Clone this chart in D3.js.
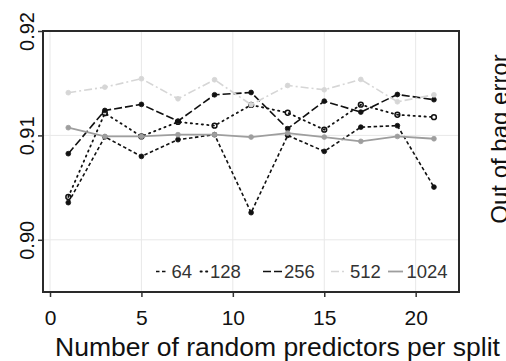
<!DOCTYPE html>
<html>
<head>
<meta charset="utf-8">
<script src="https://cdn.jsdelivr.net/npm/d3@7"></script>
<style>
  html, body { margin: 0; padding: 0; background: #fff; }
  svg { display: block; font-family: "Liberation Sans", Arial, Helvetica, sans-serif; }
</style>
</head>
<body>
<svg id="chart" width="506" height="361"></svg>
<script>
// Number of random predictors tried at each split
const predictors = [1, 3, 5, 7, 9, 11, 13, 15, 17, 19, 21];

// Out-of-bag error for each forest size (number of trees)
const err64   = [0.90356, 0.90986, 0.90799, 0.90959, 0.91007, 0.90260, 0.91000, 0.90847, 0.91079, 0.91093, 0.90505];
const err128  = [0.90410, 0.91213, 0.90990, 0.91129, 0.91093, 0.91292, 0.91217, 0.91055, 0.91294, 0.91198, 0.91175];
const err256  = [0.90825, 0.91239, 0.91297, 0.91137, 0.91389, 0.91411, 0.91064, 0.91328, 0.91223, 0.91392, 0.91342];
const err512  = [0.91409, 0.91462, 0.91543, 0.91351, 0.91533, 0.91294, 0.91478, 0.91437, 0.91536, 0.91322, 0.91389];
const err1024 = [0.91074, 0.90990, 0.90990, 0.91007, 0.91007, 0.90984, 0.91022, 0.90984, 0.90943, 0.90990, 0.90968];

const seriesNames = ["64", "128", "256", "512", "1024"];
const seriesValues = [err64, err128, err256, err512, err1024];

const xTicks = [0, 5, 10, 15, 20];
const yTicks = [0.90, 0.91, 0.92];
const yTickLabels = ["0.90", "0.91", "0.92"];

const xTitle = "Number of random predictors per split";
const yTitle = "Out of bag error";

// Line / point styling per forest size
const styles = [
  { color: "#111", dash: "3.5,2.5", width: 1.6, fill: "#111", r: 2.4 },
  { color: "#111", dash: "1.3,4.2", width: 1.8, fill: "none", r: 2.4, cap: "round" },
  { color: "#111", dash: "8,3", width: 1.6, fill: "#111", r: 2.4 },
  { color: "#d6d6d6", dash: "8,3,2,3", width: 1.6, fill: "#d6d6d6", r: 2.4 },
  { color: "#9e9e9e", dash: null, width: 1.8, fill: "#9e9e9e", r: 2.4 }
];

// Legend row placement (symbol start/end, label start)
const legendLayout = [
  { s0: 156, s1: 167, tx: 171.5 },
  { s0: 200.5, s1: 208, tx: 210 },
  { s0: 263, s1: 283, tx: 284 },
  { s0: 331, s1: 347, tx: 350 },
  { s0: 388, s1: 403, tx: 406.5 }
];

const plot = { left: 43, top: 31, right: 459, bottom: 292 };

const svg = d3.select("#chart");

const x = d3.scaleLinear().domain([-0.383, 22.37]).range([plot.left, plot.right]);
const y = d3.scaleLinear().domain([0.895, 0.92]).range([plot.bottom, plot.top]);

// Grid
const grid = svg.append("g").attr("stroke", "#e8e8e8").attr("stroke-width", 1);
grid.selectAll("line.vx").data(xTicks).join("line")
  .attr("x1", d => x(d)).attr("x2", d => x(d))
  .attr("y1", plot.top).attr("y2", plot.bottom);
grid.selectAll("line.hy").data(yTicks).join("line")
  .attr("x1", plot.left).attr("x2", plot.right)
  .attr("y1", d => y(d)).attr("y2", d => y(d));

// Series lines and markers
const line = d3.line().x((d, i) => x(predictors[i])).y(d => y(d));

seriesValues.forEach((vals, k) => {
  const st = styles[k];
  const g = svg.append("g");
  g.append("path")
    .attr("d", line(vals))
    .attr("fill", "none")
    .attr("stroke", st.color)
    .attr("stroke-width", st.width)
    .attr("stroke-dasharray", st.dash)
    .attr("stroke-linecap", st.cap || "butt");
  g.selectAll("circle").data(vals).join("circle")
    .attr("cx", (d, i) => x(predictors[i]))
    .attr("cy", d => y(d))
    .attr("r", st.r)
    .attr("fill", st.fill)
    .attr("stroke", st.color)
    .attr("stroke-width", st.fill === "none" ? 1.5 : 0.8);
});

// Axes
const xAxis = d3.axisBottom(x).tickValues(xTicks).tickSize(5).tickPadding(6);
const gx = svg.append("g").attr("transform", `translate(0,${plot.bottom})`).call(xAxis);
gx.select(".domain").remove();
gx.selectAll(".tick line").attr("stroke", "#333").attr("stroke-width", 1.5);
gx.selectAll(".tick text")
  .attr("fill", "#111")
  .style("font-size", "21px")
  .attr("dy", null)
  .attr("y", 33);

const yAxis = d3.axisLeft(y).tickValues(yTicks).tickFormat((d, i) => yTickLabels[i]).tickSize(5);
const gy = svg.append("g").attr("transform", `translate(${plot.left},0)`).call(yAxis);
gy.select(".domain").remove();
gy.selectAll(".tick line").attr("stroke", "#333").attr("stroke-width", 1.5);
gy.selectAll(".tick text")
  .attr("fill", "#111")
  .style("font-size", "20px")
  .attr("x", null).attr("dy", null)
  .attr("text-anchor", "middle")
  .attr("transform", "translate(-9.5,0) rotate(-90)");

// Panel frame
svg.append("rect")
  .attr("x", plot.left).attr("y", plot.top)
  .attr("width", plot.right - plot.left).attr("height", plot.bottom - plot.top)
  .attr("fill", "none").attr("stroke", "#2a2a2a").attr("stroke-width", 2);

// Legend inside the panel
const leg = svg.append("g");
seriesNames.forEach((name, k) => {
  const st = styles[k];
  const L = legendLayout[k];
  leg.append("line")
    .attr("x1", L.s0).attr("x2", L.s1).attr("y1", 271.5).attr("y2", 271.5)
    .attr("stroke", st.color).attr("stroke-width", st.width)
    .attr("stroke-dasharray", st.dash)
    .attr("stroke-linecap", st.cap || "butt");
  leg.append("text")
    .attr("x", L.tx).attr("y", 278)
    .attr("fill", "#333")
    .style("font-size", "18.5px")
    .text(name);
});

// Axis titles
svg.append("text")
  .attr("x", 277.5).attr("y", 356)
  .attr("text-anchor", "middle")
  .attr("fill", "#111")
  .style("font-size", "26.5px")
  .text(xTitle);

// y title sits at the right edge of the canvas, reading bottom to top
svg.append("text")
  .attr("transform", "translate(508,139) rotate(-90)")
  .attr("text-anchor", "middle")
  .attr("fill", "#111")
  .style("font-size", "24px")
  .text(yTitle);
</script>
</body>
</html>
